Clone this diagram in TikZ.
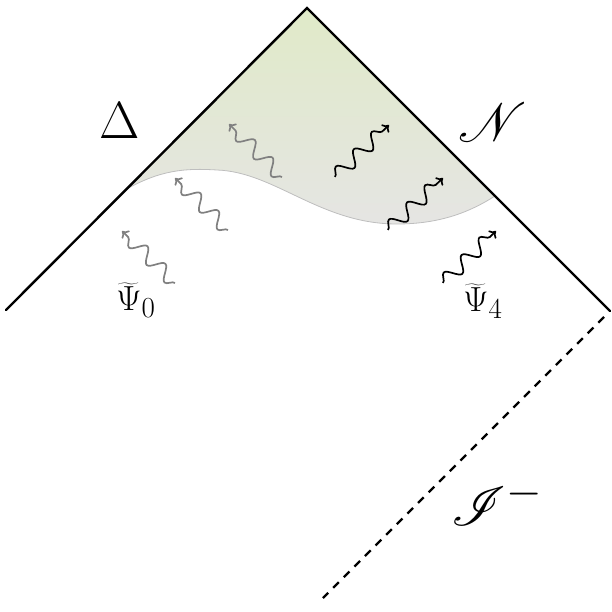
\documentclass[tikz,border=0pt]{standalone}
\usepackage{mathrsfs}
\usetikzlibrary{decorations.pathmorphing,arrows.meta}
\definecolor{topgreen}{RGB}{224,234,200}
\definecolor{botgray}{RGB}{229,229,227}
\definecolor{wavegray}{RGB}{128,128,128}
\definecolor{edgegray}{RGB}{190,190,190}
\tikzset{
  boundary/.style={line width=2.4pt, line cap=round, line join=miter},
  scri/.style={line width=2.4pt, dash pattern=on 8pt off 7pt},
  wave/.style={line width=1.7pt, decorate,
    decoration={snake, segment length=25pt, amplitude=7pt, post length=5pt},
    -{To[length=6pt,width=11pt]}},
  graywave/.style={wave, draw=wavegray},
  blackwave/.style={wave, draw=black},
  lbl/.style={inner sep=0pt, font=\Huge}
}
\begin{document}
\begin{tikzpicture}[x=1pt,y=-1pt]
\useasboundingbox (0,0) rectangle (611,612);
% key points
\coordinate (top) at (307,8);
\coordinate (left) at (6,310);
\coordinate (right) at (610,311);
\coordinate (bottom) at (323,598);
\coordinate (cl) at (125,190);
\coordinate (cr) at (495,196);
% shaded region
\shade[top color=topgreen, bottom color=botgray]
  (top) -- (cl) .. controls (160,170) and (185,168) .. (217,170)
  .. controls (275,172) and (320,224) .. (397,224)
  .. controls (440,224) and (470,212) .. (cr) -- cycle;
\draw[edgegray, line width=0.8pt] (cl) .. controls (160,170) and (185,168) .. (217,170)
  .. controls (275,172) and (320,224) .. (397,224)
  .. controls (440,224) and (470,212) .. (cr);
% boundaries
\draw[boundary] (left) -- (top) -- (right);
\draw[scri] (right) ++(-6,6) coordinate (ds) (ds) -- (bottom);
% waves
\coordinate (g1a) at (175,283); \coordinate (g1b) at (122,231);
\coordinate (g2a) at (228,230); \coordinate (g2b) at (175,178);
\coordinate (g3a) at (282,177); \coordinate (g3b) at (229,124);
\coordinate (b1a) at (335,177); \coordinate (b1b) at (389,125);
\coordinate (b2a) at (388,230); \coordinate (b2b) at (443,178);
\coordinate (b3a) at (443,283); \coordinate (b3b) at (496,231);
\draw[graywave] (g1a) -- (g1b);
\draw[graywave] (g2a) -- (g2b);
\draw[graywave] (g3a) -- (g3b);
\draw[blackwave] (b1a) -- (b1b);
\draw[blackwave] (b2a) -- (b2b);
\draw[blackwave] (b3a) -- (b3b);
% labels
\node[lbl, scale=2.1] (delta) at (120,121) {$\Delta$};
\node[lbl, scale=2.2] (scrN) at (493,122) {$\mathscr{N}$};
\node[lbl, scale=2.2] (scrI) at (497,502) {$\mathscr{I}^-$};
\node[lbl, scale=1.4] (psi0) at (136,300) {$\widetilde{\Psi}_0$};
\node[lbl, scale=1.4] (psi4) at (483,301) {$\widetilde{\Psi}_4$};
\end{tikzpicture}
\end{document}
